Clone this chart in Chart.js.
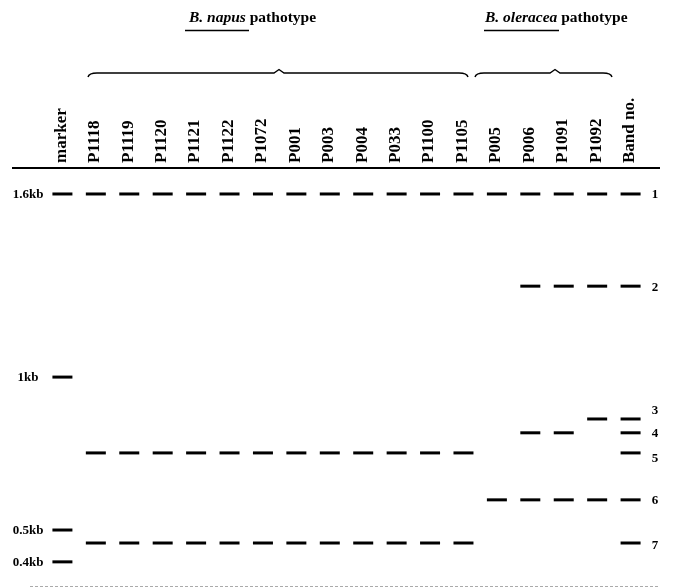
<!DOCTYPE html>
<html>
<head>
<meta charset="utf-8">
<script src="https://cdn.jsdelivr.net/npm/chart.js@4"></script>
<style>
  html, body { margin: 0; padding: 0; background: #fff; overflow: hidden; }
  canvas { display: block; }
</style>
</head>
<body>
<canvas id="gel" width="675" height="588"></canvas>
<script>
// Lanes across the gel, left to right
const lanes = ['marker', 'P1118', 'P1119', 'P1120', 'P1121', 'P1122', 'P1072', 'P001', 'P003',
  'P004', 'P033', 'P1100', 'P1105', 'P005', 'P006', 'P1091', 'P1092', 'Band no.'];
const napusLanes = ['P1118', 'P1119', 'P1120', 'P1121', 'P1122', 'P1072', 'P001', 'P003',
  'P004', 'P033', 'P1100', 'P1105'];
const oleraceaLanes = ['P005', 'P006', 'P1091', 'P1092'];

// Band numbers and migration distance (% of run, 0 = well)
const bandNo = [1, 2, 3, 4, 5, 6, 7];
const bandPos = [6.2, 28.2, 59.9, 63.2, 68.0, 79.2, 89.5];
const bandLanes = [
  napusLanes.concat(oleraceaLanes),
  ['P006', 'P1091', 'P1092'],
  ['P1092'],
  ['P006', 'P1091'],
  napusLanes,
  ['P005', 'P006', 'P1091', 'P1092'],
  napusLanes
];

// Size marker ladder
const markerLabels = ['1.6kb', '1kb', '0.5kb', '0.4kb'];
const markerPos = [6.2, 49.9, 86.4, 94.0];

const SERIF = '"Liberation Serif", "DejaVu Serif", serif';

// build points
const bandPoints = [];
bandPos.forEach((pos, b) => {
  bandLanes[b].forEach(name => bandPoints.push({ x: lanes.indexOf(name), y: pos }));
  bandPoints.push({ x: lanes.indexOf('Band no.'), y: pos });
});
const markerPoints = markerPos.map(pos => ({ x: lanes.indexOf('marker'), y: pos }));

function brace(ctx, x1, x2, tip, y) {
  ctx.beginPath();
  ctx.moveTo(x1, y + 4);
  ctx.quadraticCurveTo(x1 + 1, y, x1 + 9, y);
  ctx.lineTo(tip - 5, y);
  ctx.lineTo(tip, y - 3.5);
  ctx.lineTo(tip + 5, y);
  ctx.lineTo(x2 - 9, y);
  ctx.quadraticCurveTo(x2 - 1, y, x2, y + 4);
  ctx.stroke();
}

const gelDecor = {
  id: 'gelDecor',
  afterDraw(chart) {
    const { ctx, chartArea, scales } = chart;
    const xs = scales.x, ys = scales.y;
    ctx.save();
    ctx.fillStyle = '#000';
    ctx.strokeStyle = '#000';

    // well line and gel bottom
    ctx.lineWidth = 2;
    ctx.beginPath();
    ctx.moveTo(12, chartArea.top);
    ctx.lineTo(660, chartArea.top);
    ctx.stroke();
    ctx.strokeStyle = '#aaa';
    ctx.lineWidth = 1;
    ctx.setLineDash([3, 2]);
    ctx.beginPath();
    ctx.moveTo(30, chartArea.bottom - 0.5);
    ctx.lineTo(660, chartArea.bottom - 0.5);
    ctx.stroke();
    ctx.setLineDash([]);
    ctx.strokeStyle = '#000';

    // lane names, vertical
    ctx.font = 'bold 17px ' + SERIF;
    ctx.textAlign = 'left';
    ctx.textBaseline = 'middle';
    lanes.forEach((name, i) => {
      ctx.save();
      ctx.translate(xs.getPixelForValue(i) - 1, chartArea.top - 5);
      ctx.rotate(-Math.PI / 2);
      ctx.fillText(name, 0, 0);
      ctx.restore();
    });

    // marker sizes
    ctx.font = 'bold 13px ' + SERIF;
    ctx.textAlign = 'center';
    markerLabels.forEach((lbl, i) => {
      ctx.fillText(lbl, 28, ys.getPixelForValue(markerPos[i]) + 1);
    });

    // band numbers
    const nudge = { 3: -9, 5: 5, 7: 2 };
    bandNo.forEach((n, i) => {
      ctx.fillText(String(n), 655, ys.getPixelForValue(bandPos[i]) + 1 + (nudge[n] || 0));
    });

    // group headings
    ctx.textAlign = 'left';
    ctx.font = 'italic bold 15.5px ' + SERIF;
    ctx.fillText('B. napus', 189, 18);
    let w = ctx.measureText('B. napus ').width;
    ctx.font = 'bold 15.5px ' + SERIF;
    ctx.fillText('pathotype', 189 + w, 18);

    ctx.font = 'italic bold 15.5px ' + SERIF;
    ctx.fillText('B. oleracea', 485, 18);
    w = ctx.measureText('B. oleracea ').width;
    ctx.font = 'bold 15.5px ' + SERIF;
    ctx.fillText('pathotype', 485 + w, 18);

    ctx.lineWidth = 1.5;
    ctx.beginPath();
    ctx.moveTo(185, 30.5); ctx.lineTo(249, 30.5);
    ctx.moveTo(484, 30.5); ctx.lineTo(559, 30.5);
    ctx.stroke();

    // braces over each group
    ctx.lineWidth = 1.4;
    brace(ctx, 88, 468, 279, 73);
    brace(ctx, 475, 612, 555, 73);

    ctx.restore();
  }
};

new Chart(document.getElementById('gel'), {
  type: 'scatter',
  data: {
    datasets: [
      {
        label: 'bands',
        data: bandPoints,
        pointStyle: 'line',
        radius: 10,
        borderWidth: 3,
        borderColor: '#000',
        backgroundColor: '#000'
      },
      {
        label: 'marker',
        data: markerPoints,
        pointStyle: 'line',
        radius: 10,
        borderWidth: 3,
        borderColor: '#000',
        backgroundColor: '#000'
      }
    ]
  },
  options: {
    responsive: false,
    animation: false,
    events: [],
    layout: { autoPadding: false, padding: { left: 29, right: 11, top: 168, bottom: 1 } },
    plugins: {
      legend: { display: false },
      tooltip: { enabled: false }
    },
    scales: {
      x: { type: 'linear', display: false, min: -1, max: 18 },
      y: { type: 'linear', display: false, reverse: true, min: 0, max: 100 }
    }
  },
  plugins: [gelDecor]
});
</script>
</body>
</html>
